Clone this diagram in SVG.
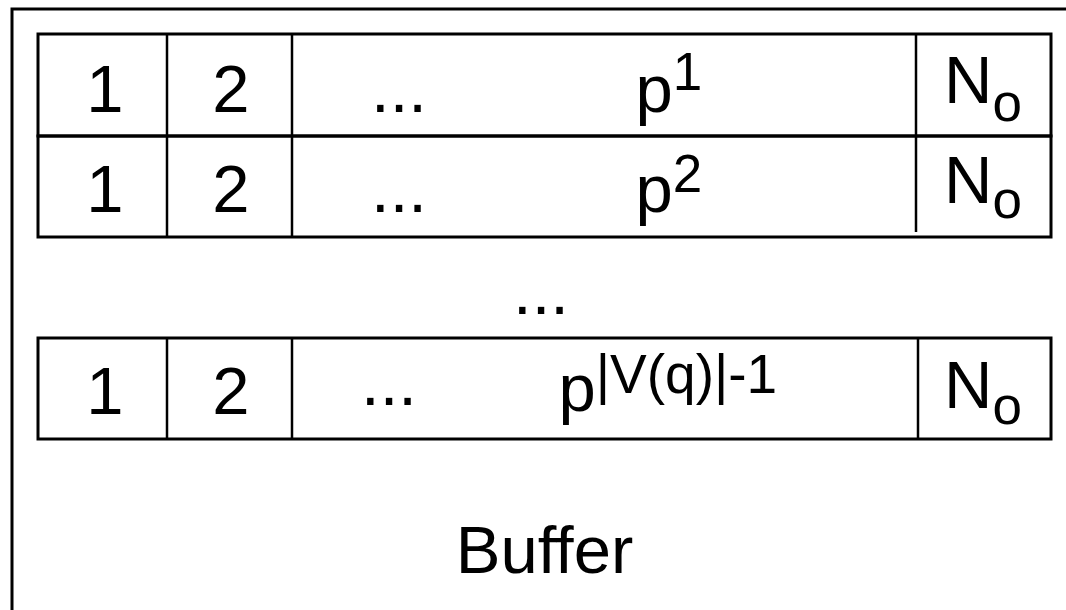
<svg xmlns="http://www.w3.org/2000/svg" width="1066" height="610" viewBox="0 0 1066 610">
<style>
.frame{fill:none;stroke:#000;stroke-width:3}
.cell{fill:none;stroke:#000;stroke-width:3}
.div{stroke:#000;stroke-width:2.5}
text{font-family:"Liberation Sans",Arial,sans-serif;font-size:67px;fill:#000}
.mid{text-anchor:middle}
.ss{font-size:53px}
.ss3{font-size:55px}
</style>
<rect width="1066" height="610" fill="#fff"/>
<g id="buffer">
<rect class="frame" x="12" y="9" width="1100" height="700"/>
<text class="mid" x="544.5" y="573">Buffer</text>
</g>
<g id="row1">
<rect class="cell" x="38" y="34" width="1013" height="102"/>
<line class="div" x1="167" y1="34" x2="167" y2="136"/>
<line class="div" x1="292" y1="34" x2="292" y2="136"/>
<line class="div" x1="916" y1="34" x2="916" y2="136"/>
<text class="mid" x="105" y="112">1</text>
<text class="mid" x="231" y="112">2</text>
<text class="mid" x="399" y="112">...</text>
<text x="635.5" y="112">p<tspan class="ss" dy="-22">1</tspan></text>
<text x="944" y="103">N<tspan class="ss" dy="18">o</tspan></text>
</g>
<g id="row2">
<rect class="cell" x="38" y="136" width="1013" height="101"/>
<line class="div" x1="167" y1="136" x2="167" y2="237"/>
<line class="div" x1="292" y1="136" x2="292" y2="237"/>
<line class="div" x1="916" y1="136" x2="916" y2="232"/>
<text class="mid" x="105" y="212">1</text>
<text class="mid" x="231" y="212">2</text>
<text class="mid" x="399" y="212">...</text>
<text x="635.5" y="212">p<tspan class="ss" dy="-20">2</tspan></text>
<text x="944" y="203">N<tspan class="ss" dy="15">o</tspan></text>
</g>
<g id="gap">
<text class="mid" x="541" y="314">...</text>
</g>
<g id="row3">
<rect class="cell" x="38" y="338" width="1013" height="101"/>
<line class="div" x1="167" y1="338" x2="167" y2="439"/>
<line class="div" x1="292" y1="338" x2="292" y2="439"/>
<line class="div" x1="918" y1="338" x2="918" y2="439"/>
<text class="mid" x="105" y="414">1</text>
<text class="mid" x="231" y="414">2</text>
<text class="mid" x="389" y="405">...</text>
<text x="558.5" y="411">p<tspan class="ss3" dy="-18">|V(q)|-1</tspan></text>
<text x="944" y="408">N<tspan class="ss" dy="16">o</tspan></text>
</g>
</svg>
